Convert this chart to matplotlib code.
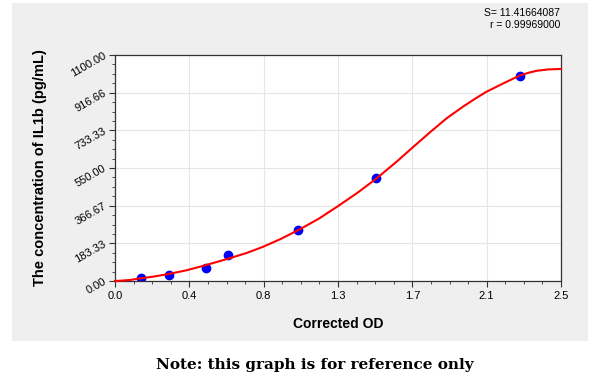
import matplotlib
matplotlib.use('Agg')
import matplotlib.pyplot as plt
from matplotlib.patches import Rectangle
from matplotlib.ticker import FixedLocator, AutoMinorLocator

# standard points (corrected OD vs concentration)
od = [0.144, 0.301, 0.508, 0.636, 1.028, 1.465, 2.268]
conc = [15.63, 31.25, 62.5, 125, 250, 500, 1000]

# fitted curve
curve_x = [0.0, 0.04, 0.084, 0.144, 0.22, 0.30, 0.40, 0.50, 0.64, 0.74,
           0.831, 0.93, 1.028, 1.14, 1.246, 1.36, 1.467, 1.579, 1.663, 1.766,
           1.859, 1.953, 2.02, 2.08, 2.177, 2.266, 2.32, 2.363, 2.43, 2.5]
curve_y = [0, 2, 5, 13, 22, 34, 52, 75, 110, 137,
           167, 205, 248, 302, 362, 430, 500, 581, 646, 724,
           792, 850, 888, 920, 962, 999, 1014, 1023, 1030, 1032]

xticks = [0.0, 2.5 / 6, 2.5 * 2 / 6, 2.5 * 3 / 6, 2.5 * 4 / 6, 2.5 * 5 / 6, 2.5]
xtick_labels = ['0.0', '0.4', '0.8', '1.3', '1.7', '2.1', '2.5']
yticks = [0.0, 183.33, 366.67, 550.0, 733.33, 916.66, 1100.0]
ytick_labels = ['0.00', '183.33', '366.67', '550.00', '733.33', '916.66', '1100.00']

plt.rcParams['font.family'] = ['Liberation Sans', 'DejaVu Sans']

fig = plt.figure(figsize=(6, 3.86), dpi=100, facecolor='white')
fig.patches.append(Rectangle((12 / 600, 1 - 341 / 386), 576 / 600, 338 / 386,
                             transform=fig.transFigure, facecolor='#efefef',
                             edgecolor='none', zorder=-10))

ax = fig.add_axes([115 / 600, 1 - 281 / 386, 446 / 600, 226 / 386])
ax.set_zorder(1)
ax.set_facecolor('white')

ax.plot(curve_x, curve_y, color='#ff0000', lw=1.5, zorder=3, clip_on=False)
ax.plot(od, conc, 'o', color='#0000ff', markersize=6, zorder=2)

ax.set_xlim(0, 2.5)
ax.set_ylim(0, 1100)
ax.xaxis.set_major_locator(FixedLocator(xticks))
ax.yaxis.set_major_locator(FixedLocator(yticks))
ax.xaxis.set_minor_locator(AutoMinorLocator(4))
ax.yaxis.set_minor_locator(AutoMinorLocator(4))
ax.set_xticklabels(xtick_labels, fontsize=8)
ax.set_yticklabels(ytick_labels, fontsize=8, rotation=30, ha='right',
                   va='center', rotation_mode='anchor')
ax.tick_params(which='major', length=4, width=0.8, color='#333333', pad=3)
ax.tick_params(which='minor', length=2.5, width=0.6, color='#333333')
ax.grid(True, which='major', color='#e6e6e6', lw=0.8)
ax.set_axisbelow(True)
for s in ax.spines.values():
    s.set_color('#333333')
    s.set_linewidth(0.9)

ax.set_xlabel('Corrected OD', fontsize=10, fontweight='bold', labelpad=12)
ax.set_ylabel('The concentration of IL1b (pg/mL)', fontsize=10.5,
              fontweight='bold', labelpad=16)

fig.text(560 / 600, 1 - 13 / 386, 'S= 11.41664087', fontsize=7.5, ha='right', va='center')
fig.text(560 / 600, 1 - 25 / 386, 'r = 0.99969000', fontsize=7.5, ha='right', va='center')

fig.text(315 / 600, 1 - 365 / 386, 'Note: this graph is for reference only',
         fontsize=11, fontweight='bold', family='DejaVu Serif',
         ha='center', va='center')

fig.savefig('out.png', dpi=100, facecolor=fig.get_facecolor())
